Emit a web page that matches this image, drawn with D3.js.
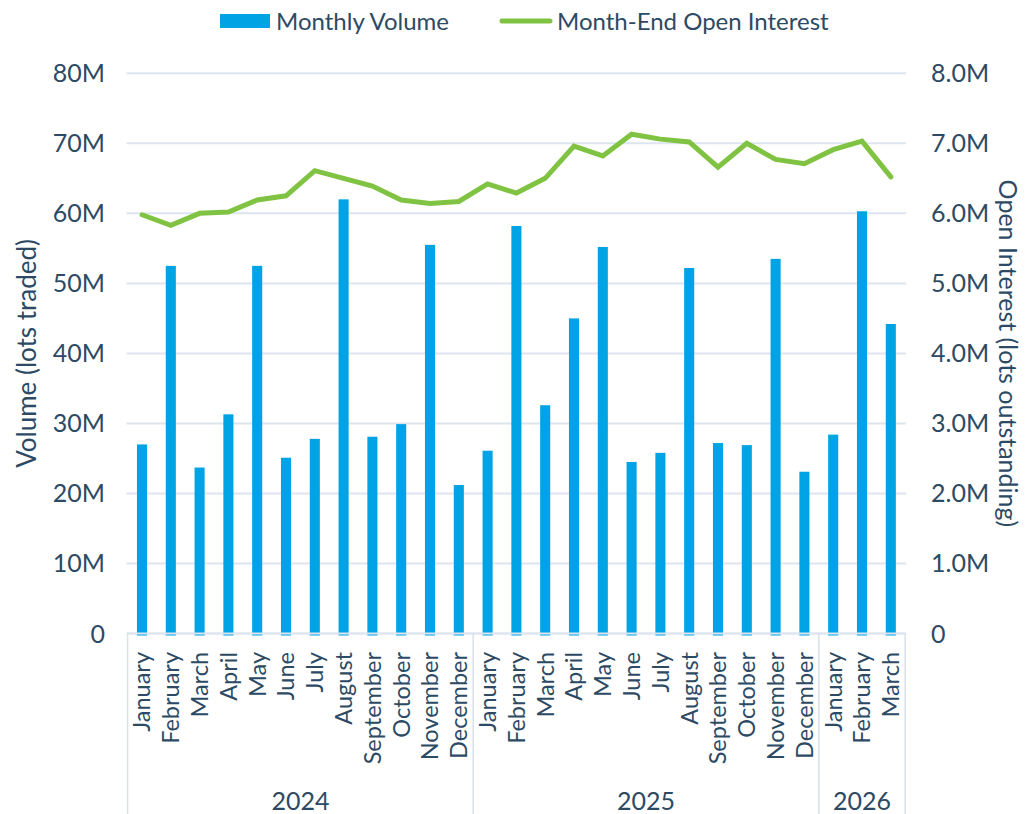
<!DOCTYPE html>
<html>
<head>
<meta charset="utf-8">
<script src="https://cdn.jsdelivr.net/npm/d3@7"></script>
<style>
  html, body { margin: 0; padding: 0; background: #fff; }
  svg text { font-family: Lato, "Open Sans", sans-serif; fill: #2d4a64; }
</style>
</head>
<body>
<svg id="chart" width="1025" height="814"></svg>
<script>
// data
const years = ["2024", "2025", "2026"];
const monthsPerYear = [12, 12, 3];
const monthNames = ["January", "February", "March", "April", "May", "June",
  "July", "August", "September", "October", "November", "December"];
const volume = [27.0, 52.5, 23.7, 31.3, 52.5, 25.1, 27.8, 62.0, 28.1, 29.9, 55.5, 21.2,
                26.1, 58.2, 32.6, 45.0, 55.2, 24.5, 25.8, 52.2, 27.2, 26.9, 53.5, 23.1,
                28.4, 60.3, 44.2];
const openInterest = [5.98, 5.83, 6.00, 6.02, 6.19, 6.25, 6.61, 6.50, 6.39, 6.19, 6.14, 6.17,
                      6.42, 6.29, 6.50, 6.96, 6.82, 7.13, 7.06, 7.02, 6.66, 7.00, 6.77, 6.71,
                      6.91, 7.03, 6.52];
const leftTicks = [0, 10, 20, 30, 40, 50, 60, 70, 80];
const rightTicks = [0, 1, 2, 3, 4, 5, 6, 7, 8];

// build the category list (year + month)
const cats = [];
years.forEach((y, i) => {
  for (let m = 0; m < monthsPerYear[i]; m++) {
    cats.push({ key: y + "-" + m, year: y, month: monthNames[m] });
  }
});
cats.forEach((c, i) => { c.vol = volume[i]; c.oi = openInterest[i]; });

const svg = d3.select("#chart");
const plotLeft = 127.6, plotRight = 905.2, plotTop = 73.3, plotBottom = 633.5;

const x = d3.scaleBand().domain(cats.map(d => d.key)).range([plotLeft, plotRight]).paddingInner(0.65).paddingOuter(0.325);
const xc = d => x(d.key) + x.bandwidth() / 2;
const yL = d3.scaleLinear().domain([0, 80]).range([plotBottom, plotTop]);
const yR = d3.scaleLinear().domain([0, 8]).range([plotBottom, plotTop]);

const gridColor = "#dde5ee";

// gridlines
svg.append("g").selectAll("line")
  .data(leftTicks).enter().append("line")
  .attr("x1", plotLeft - 1).attr("x2", plotRight + 1)
  .attr("y1", d => yL(d)).attr("y2", d => yL(d))
  .style("stroke", gridColor).style("stroke-width", 2);

// left tick labels
svg.append("g").selectAll("text")
  .data(leftTicks).enter().append("text")
  .attr("x", 105).attr("y", d => yL(d))
  .attr("dy", "0.36em")
  .attr("text-anchor", "end")
  .style("font-size", "25px")
  .text(d => d === 0 ? "0" : d + "M");

// right tick labels
svg.append("g").selectAll("text")
  .data(rightTicks).enter().append("text")
  .attr("x", 931).attr("y", d => yR(d))
  .attr("dy", "0.36em")
  .attr("text-anchor", "start")
  .style("font-size", "25px")
  .text(d => d === 0 ? "0" : d.toFixed(1) + "M");

// axis titles
svg.append("text")
  .attr("transform", "translate(27," + (plotTop + plotBottom) / 2 + ") rotate(-90)")
  .attr("text-anchor", "middle").attr("dy", "0.36em")
  .style("font-size", "26px")
  .text("Volume (lots traded)");

svg.append("text")
  .attr("transform", "translate(1008," + (plotTop + plotBottom) / 2 + ") rotate(90)")
  .attr("text-anchor", "middle").attr("dy", "0.36em")
  .style("font-size", "25px")
  .text("Open Interest (lots outstanding)");

// bars
svg.append("g").selectAll("rect")
  .data(cats).enter().append("rect")
  .attr("x", d => x(d.key))
  .attr("width", x.bandwidth())
  .attr("y", d => yL(d.vol))
  .attr("height", d => yL(0) - yL(d.vol) + 2)
  .attr("fill", "#00a3e4");

// line
const line = d3.line().x(d => xc(d)).y(d => yR(d.oi));
svg.append("path")
  .datum(cats)
  .attr("d", line)
  .attr("fill", "none")
  .style("stroke", "#80c342")
  .style("stroke-width", 5)
  .style("stroke-linecap", "round")
  .style("stroke-linejoin", "miter");

// x axis frame (multi-level categories)
const boxColor = "#d9e2ec";
svg.append("line")
  .attr("x1", plotLeft).attr("x2", plotRight).attr("y1", plotBottom).attr("y2", plotBottom)
  .style("stroke", gridColor).style("stroke-width", 2);

let idx = 0;
const yearSpans = years.map((y, i) => {
  const s = { year: y, start: x(cats[idx].key) - x.step() * x.paddingInner() / 2 };
  idx += monthsPerYear[i];
  s.end = x(cats[idx - 1].key) + x.bandwidth() + x.step() * x.paddingInner() / 2;
  return s;
});
const seps = [yearSpans[0].start].concat(yearSpans.map(s => s.end));
svg.append("g").selectAll("line")
  .data(seps).enter().append("line")
  .attr("x1", d => d).attr("x2", d => d)
  .attr("y1", plotBottom).attr("y2", 814)
  .style("stroke", boxColor).style("stroke-width", 1.5);

// month labels
svg.append("g").selectAll("text")
  .data(cats).enter().append("text")
  .attr("transform", d => "translate(" + xc(d) + ",652) rotate(-90)")
  .attr("text-anchor", "end")
  .attr("dy", "0.36em")
  .style("font-size", "23.5px")
  .text(d => d.month);

// year labels
svg.append("g").selectAll("text")
  .data(yearSpans).enter().append("text")
  .attr("x", d => (d.start + d.end) / 2)
  .attr("y", 801)
  .attr("dy", "0.36em")
  .attr("text-anchor", "middle")
  .style("font-size", "25px")
  .text(d => d.year);

// legend
const lg = svg.append("g");
lg.append("rect").attr("x", 220).attr("y", 14).attr("width", 50).attr("height", 14).attr("fill", "#00a3e4");
lg.append("text").attr("x", 276).attr("y", 21).attr("dy", "0.36em").style("font-size", "24px").text("Monthly Volume");
lg.append("line").attr("x1", 502).attr("x2", 550).attr("y1", 21).attr("y2", 21)
  .style("stroke", "#80c342").style("stroke-width", 5).style("stroke-linecap", "round");
lg.append("text").attr("x", 557).attr("y", 21).attr("dy", "0.36em").style("font-size", "24px").text("Month-End Open Interest");
</script>
</body>
</html>
